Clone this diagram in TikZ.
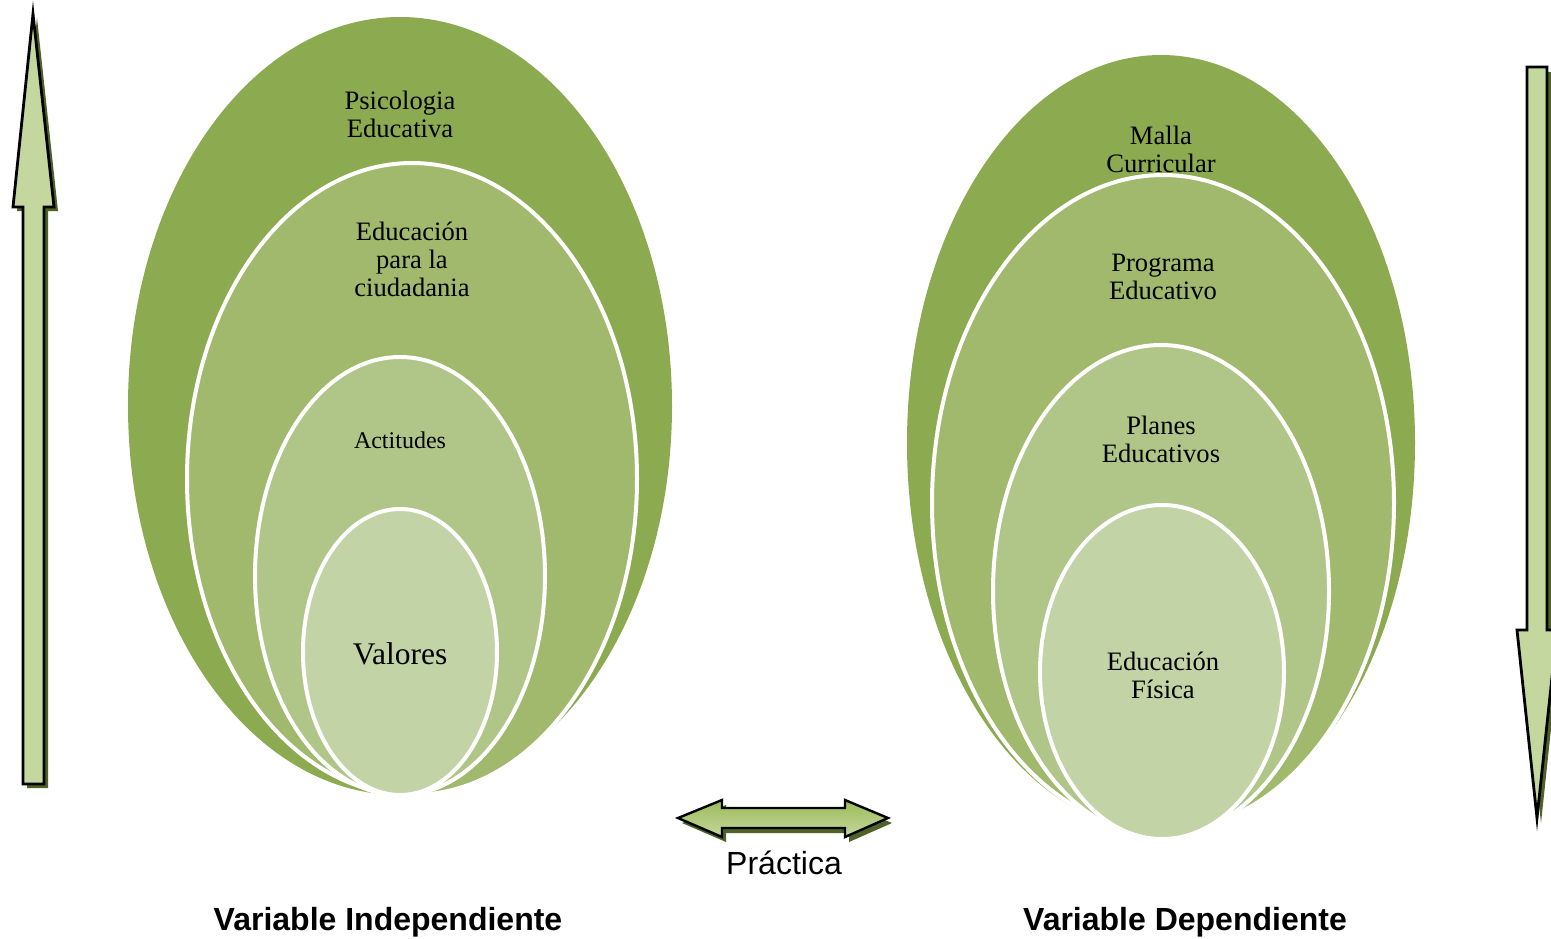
\documentclass[tikz,border=0pt]{standalone}
\usepackage{fontspec}
\setmainfont{Liberation Serif}
\newfontfamily\arialfont{Liberation Sans}
\definecolor{gA}{HTML}{8CAA50}
\definecolor{gB}{HTML}{A0B96C}
\definecolor{gC}{HTML}{B0C688}
\definecolor{gD}{HTML}{C2D3A6}
\definecolor{shad}{HTML}{4F6228}
\definecolor{arLight}{HTML}{C4D79E}
\definecolor{arMid}{HTML}{9BBB59}
\tikzset{
  ring/.style={draw=white, line width=4pt},
  arrowbody/.style={draw=black, line width=2.8pt, line join=miter},
  arrowshadow/.style={fill=shad},
  lbl/.style={align=center, text=black, inner sep=0pt},
  t26/.style={font=\fontsize{26.6}{28}\selectfont},
  bottomlbl/.style={font=\arialfont\bfseries\fontsize{32}{34}\selectfont, inner sep=0pt, anchor=base}
}
\begin{document}
\begin{tikzpicture}[x=1pt,y=-1pt]
\useasboundingbox (0,0) rectangle (1551,938);
\clip (0,0) rectangle (1551,938);
\fill[white] (0,0) rectangle (1551,938);

% ---- left set of ellipses
\fill[gA] (400,406) ellipse [x radius=272, y radius=389];
\filldraw[fill=gB, ring] (412,479) ellipse [x radius=225, y radius=316];
\filldraw[fill=gC, ring] (400,576) ellipse [x radius=145, y radius=219];
\filldraw[fill=gD, ring] (400,652) ellipse [x radius=97, y radius=143];

% ---- right set of ellipses
\fill[gA] (1161,443) ellipse [x radius=254, y radius=388];
\filldraw[fill=gB, ring] (1163,503) ellipse [x radius=231, y radius=328];
\filldraw[fill=gC, ring] (1161,591) ellipse [x radius=168, y radius=246];
\filldraw[fill=gD, ring] (1162,672) ellipse [x radius=122, y radius=167];

% ---- texts in ellipses
\node[lbl, t26] (psi) at (400,114) {Psicologia\\Educativa};
\node[lbl, t26] (edu) at (412,259) {Educación\\para la\\ciudadania};
\node[lbl, font=\fontsize{24}{26}\selectfont] (act) at (400,440) {Actitudes};
\node[lbl, font=\fontsize{31.5}{34}\selectfont] (val) at (400,654) {Valores};

\node[lbl, t26] (mal) at (1161,149) {Malla\\Curricular};
\node[lbl, t26] (pro) at (1163,277) {Programa\\Educativo};
\node[lbl, t26] (pla) at (1161,439) {Planes\\Educativos};
\node[lbl, t26] (efi) at (1163,675) {Educación\\Física};

% ---- left up arrow
\fill[arrowshadow, shift={(4,4)}] (33,14) -- (54,207) -- (44,207) -- (44,784) -- (23,784) -- (23,207) -- (13,207) -- cycle;
\shade[top color=arLight, middle color=arMid, bottom color=arLight]
  (33,14) -- (54,207) -- (44,207) -- (44,784) -- (23,784) -- (23,207) -- (13,207) -- cycle;
\draw[arrowbody] (33,14) -- (54,207) -- (44,207) -- (44,784) -- (23,784) -- (23,207) -- (13,207) -- cycle;

% ---- right down arrow
\fill[arrowshadow, shift={(4,5)}] (1527,67) -- (1547,67) -- (1547,630) -- (1557,630) -- (1537,818) -- (1517,630) -- (1527,630) -- cycle;
\shade[top color=arLight, middle color=arMid, bottom color=arLight]
  (1527,67) -- (1547,67) -- (1547,630) -- (1557,630) -- (1537,818) -- (1517,630) -- (1527,630) -- cycle;
\draw[arrowbody] (1527,67) -- (1547,67) -- (1547,630) -- (1557,630) -- (1537,818) -- (1517,630) -- (1527,630) -- cycle;

% ---- double arrow
\fill[arrowshadow, shift={(4,5)}] (678,818) -- (722,800) -- (722,808) -- (845,808) -- (845,800) -- (888,818) -- (845,837) -- (845,828) -- (722,828) -- (722,837) -- cycle;
\shade[top color=arMid, bottom color=arLight]
  (678,818) -- (722,800) -- (722,808) -- (845,808) -- (845,800) -- (888,818) -- (845,837) -- (845,828) -- (722,828) -- (722,837) -- cycle;
\draw[arrowbody, line width=2.4pt] (678,818) -- (722,800) -- (722,808) -- (845,808) -- (845,800) -- (888,818) -- (845,837) -- (845,828) -- (722,828) -- (722,837) -- cycle;

% ---- bottom labels
\node[inner sep=0pt, anchor=base, font=\arialfont\fontsize{32}{34}\selectfont] (prac) at (784,874) {Práctica};
\node[bottomlbl] (vi) at (388,930) {Variable Independiente};
\node[bottomlbl] (vd) at (1185,930) {Variable Dependiente};
\end{tikzpicture}
\end{document}
